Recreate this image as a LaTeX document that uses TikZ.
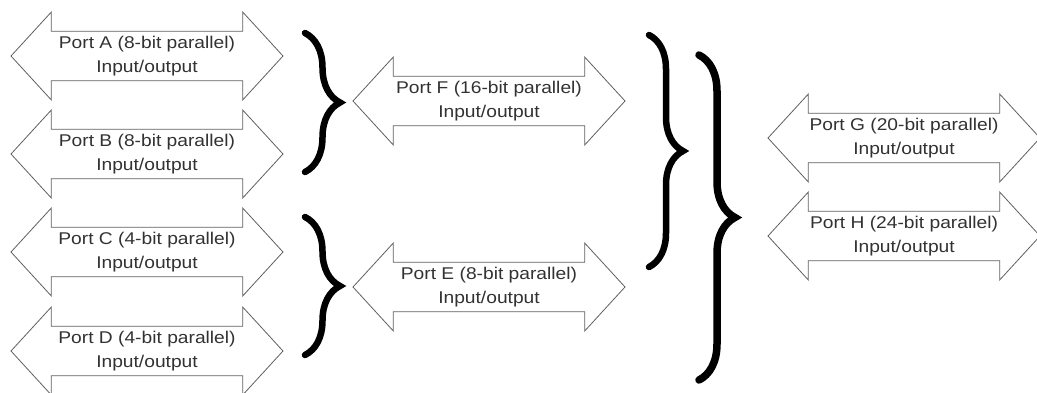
\documentclass[tikz,border=0pt]{standalone}
\usepackage{fontspec}
\newfontfamily\portfont{Liberation Sans}[FakeStretch=1.13]
\usepackage{tikz}
\usetikzlibrary{positioning, shapes.arrows, decorations.pathreplacing}
\definecolor{outline}{RGB}{95,95,95}
\definecolor{labeltext}{RGB}{50,50,50}
\tikzset{
  port/.style={draw=outline, line width=0.8pt, double arrow,
               double arrow tip angle=95, double arrow head extend=15.5pt,
               minimum height=272pt, minimum width=88pt, inner sep=0pt,
               align=center, text=labeltext,
               font=\portfont\fontsize{17}{23.4}\selectfont},
  bracket/.style={decorate, decoration={brace, amplitude=35pt},
                  line width=6.5pt, line cap=round}
}

\begin{document}
\begin{tikzpicture}[x=1pt, y=-1pt]
  \useasboundingbox (0,0) rectangle (1037,392);

  % first column: the narrow ports
  \node[port] (A) at (147,56)  {Port A (8-bit parallel)\\Input/output};
  \node[port] (B) at (147,154) {Port B (8-bit parallel)\\Input/output};
  \node[port] (C) at (147,252) {Port C (4-bit parallel)\\Input/output};
  \node[port] (D) at (147,351) {Port D (4-bit parallel)\\Input/output};

  % second column
  \node[port] (F) at (489,101) {Port F (16-bit parallel)\\Input/output};
  \node[port] (E) at (489,287) {Port E (8-bit parallel)\\Input/output};

  % third column
  \node[port] (G) at (904,138) {Port G (20-bit parallel)\\Input/output};
  \node[port] (H) at (904,236) {Port H (24-bit parallel)\\Input/output};

  % brace end points
  \coordinate (ab top) at (305,33);   \coordinate (ab bot) at (305,172);
  \coordinate (cd top) at (305,217);  \coordinate (cd bot) at (305,355);
  \coordinate (fe top) at (649,35);   \coordinate (fe bot) at (649,267);
  \coordinate (all top) at (699,55);  \coordinate (all bot) at (699,380);

  % A+B -> F, C+D -> E
  \draw[bracket] (ab top) -- (ab bot);
  \draw[bracket] (cd top) -- (cd bot);
  % F+E -> G
  \draw[bracket, decoration={amplitude=34pt}] (fe top) -- (fe bot);
  % everything -> H
  \draw[bracket, line width=7.5pt, decoration={amplitude=36pt}] (all top) -- (all bot);
\end{tikzpicture}
\end{document}
